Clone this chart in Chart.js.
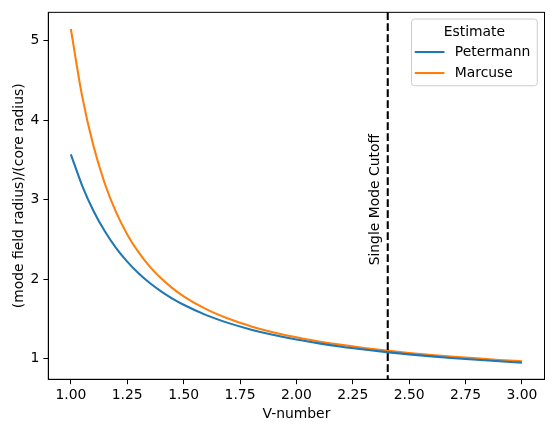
<!DOCTYPE html>
<html><head><meta charset="utf-8">
<script src="https://cdn.jsdelivr.net/npm/chart.js@4"></script>
<style>html,body{margin:0;padding:0;background:#fff}</style>
</head><body>
<canvas id="c" width="554" height="432"></canvas>
<script>
const vNumber   = [1.00,1.05,1.10,1.15,1.20,1.25,1.30,1.35,1.40,1.45,1.50,1.60,1.70,1.80,1.90,2.00,2.10,2.20,2.30,2.40,2.50,2.60,2.70,2.80,2.90,3.00];
const petermann = [3.571,3.178,2.861,2.605,2.394,2.220,2.074,1.951,1.846,1.755,1.677,1.547,1.446,1.364,1.296,1.239,1.191,1.149,1.113,1.081,1.053,1.028,1.005,0.984,0.966,0.949];
const marcuse   = [5.148,4.303,3.678,3.207,2.846,2.563,2.339,2.158,2.010,1.887,1.784,1.622,1.500,1.405,1.329,1.267,1.216,1.172,1.134,1.101,1.071,1.045,1.022,1.002,0.983,0.966];
const seriesNames = ['Petermann','Marcuse'];
const legendTitle = 'Estimate';
const xTicks = [1.00,1.25,1.50,1.75,2.00,2.25,2.50,2.75,3.00];
const yTicks = [1,2,3,4,5];
const xRange = [0.9,3.1];
const yRange = [0.739,5.358];
const xLabel = 'V-number';
const yLabel = '(mode field radius)/(core radius)';
const cutoffV = 2.405;
const cutoffLabel = 'Single Mode Cutoff';
const cutoffLabelAt = [2.352, 3.0];

const FS = 13.9;
const FONT = {family:'DejaVu Sans', size:FS};
const CSSFONT = FS + 'px "DejaVu Sans"';
const LW = 2.08;
const colors = ['#1f77b4','#ff7f0e'];

const frameAndExtras = {
  id:'extras',
  afterDatasetsDraw(chart){
    const {ctx, chartArea:a, scales:{x,y}} = chart;
    ctx.save();
    const px = x.getPixelForValue(cutoffV);
    ctx.beginPath();
    ctx.setLineDash([7.7,3.3]);
    ctx.lineWidth = LW; ctx.strokeStyle = '#000';
    ctx.moveTo(px, a.top); ctx.lineTo(px, a.bottom); ctx.stroke();
    ctx.setLineDash([]);
    ctx.translate(x.getPixelForValue(cutoffLabelAt[0]), y.getPixelForValue(cutoffLabelAt[1]));
    ctx.rotate(-Math.PI/2);
    ctx.font = CSSFONT; ctx.fillStyle = '#000';
    ctx.textAlign = 'center'; ctx.textBaseline = 'middle';
    ctx.fillText(cutoffLabel, 0, 0);
    ctx.restore();
  },
  afterDraw(chart){
    const {ctx, chartArea:a} = chart;
    ctx.save();
    ctx.strokeStyle = '#000'; ctx.lineWidth = 1;
    ctx.strokeRect(a.left, a.top, a.right - a.left, a.bottom - a.top);
    ctx.font = CSSFONT;
    const labW = Math.max(...chart.data.datasets.map(d => ctx.measureText(d.label).width));
    const w = Math.max(3.3 + 29.7 + 10.3 + labW + 7, ctx.measureText(legendTitle).width + 16);
    const h = 66.7;
    const bx = a.right - 7.2 - w, by = a.top + 6.7;
    ctx.beginPath();
    ctx.roundRect(bx, by, w, h, 3);
    ctx.fillStyle = 'rgba(255,255,255,0.8)'; ctx.fill();
    ctx.strokeStyle = '#cccccc'; ctx.lineWidth = 1; ctx.stroke();
    ctx.fillStyle = '#000'; ctx.textBaseline = 'middle';
    ctx.textAlign = 'center';
    ctx.fillText(legendTitle, bx + w/2, by + 13);
    ctx.textAlign = 'left';
    chart.data.datasets.forEach((d,i) => {
      const ry = by + 33 + i*21;
      ctx.beginPath(); ctx.strokeStyle = d.borderColor; ctx.lineWidth = LW;
      ctx.moveTo(bx + 3.3, ry); ctx.lineTo(bx + 33, ry); ctx.stroke();
      ctx.fillStyle = '#000';
      ctx.fillText(d.label, bx + 43.3, ry);
    });
    ctx.restore();
  }
};

new Chart(document.getElementById('c'), {
  type:'line',
  data:{
    datasets:[petermann, marcuse].map((s,i) => ({
      label: seriesNames[i],
      data: vNumber.map((v,j) => ({x:v, y:s[j]})),
      borderColor: colors[i], backgroundColor: colors[i],
      borderWidth: LW, pointRadius: 0, fill:false,
      cubicInterpolationMode:'monotone'
    }))
  },
  options:{
    responsive:false, animation:false, devicePixelRatio:1,
    layout:{padding:{top:9.3, right:9.5, left:0, bottom:0}},
    plugins:{legend:{display:false}, tooltip:{enabled:false}},
    scales:{
      x:{type:'linear', min:xRange[0], max:xRange[1],
        afterBuildTicks: s => { s.ticks = xTicks.map(v => ({value:v})); },
        afterFit: s => { s.height = 52.7; },
        ticks:{callback: v => Number(v).toFixed(2), font:FONT, color:'#000', padding:3, maxRotation:0, autoSkip:false},
        grid:{drawOnChartArea:false, drawTicks:true, tickLength:4.9, tickColor:'#000', tickWidth:1},
        border:{display:true, color:'#000', width:1},
        title:{display:true, text:xLabel, font:FONT, color:'#000', padding:{top:0, bottom:9.4}}
      },
      y:{type:'linear', min:yRange[0], max:yRange[1],
        afterBuildTicks: s => { s.ticks = yTicks.map(v => ({value:v})); },
        afterFit: s => { s.width = 48.3; },
        ticks:{callback: v => String(v), font:FONT, color:'#000', padding:4, autoSkip:false},
        grid:{drawOnChartArea:false, drawTicks:true, tickLength:4.9, tickColor:'#000', tickWidth:1},
        border:{display:true, color:'#000', width:1},
        title:{display:true, text:yLabel, font:FONT, color:'#000', padding:{top:11, bottom:0}}
      }
    }
  },
  plugins:[frameAndExtras]
});
</script>
</body></html>
